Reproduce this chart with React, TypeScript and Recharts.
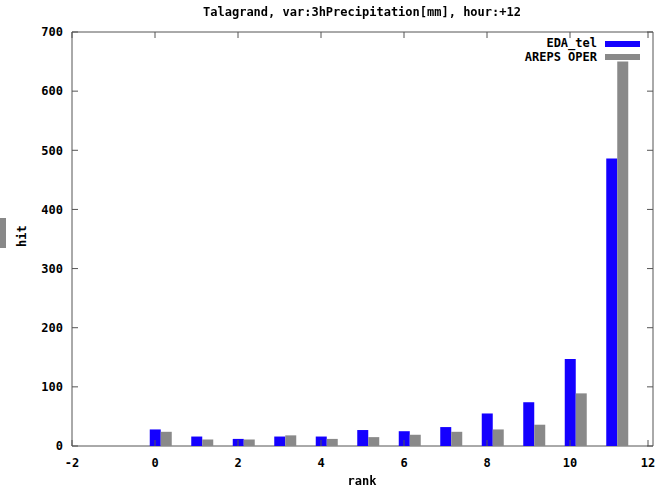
import { BarChart, Bar, XAxis, YAxis, Rectangle, ReferenceArea } from 'recharts';

const ranks = [0, 1, 2, 3, 4, 5, 6, 7, 8, 9, 10, 11];
const edaTel = [28, 16, 12, 16, 16, 27, 25, 32, 55, 74, 147, 486];
const arepsOper = [24, 11, 11, 18, 12, 15, 19, 24, 28, 36, 89, 650];
const xTicks = [-2, 0, 2, 4, 6, 8, 10, 12];
const yTicks = [0, 100, 200, 300, 400, 500, 600, 700];

const data = ranks.map((r, i) => ({ rank: r, eda: edaTel[i], areps: arepsOper[i] }));

const font = '"DejaVu Sans Mono", monospace';
const frame = '#555';

const W = 656;
const H = 489;
const margin = { top: 32, right: 3, bottom: 13, left: 12 };
const xAxisH = 30;
const yAxisW = 60;
const plotLeft = margin.left + yAxisW;
const plotRight = W - margin.right;
const plotTop = margin.top;
const plotBottom = H - margin.bottom - xAxisH;

const labelStyle = { fontFamily: font, fontSize: 12, fontWeight: 'bold' as const, fill: '#000' };

// gnuplot style: ticks point inwards and are mirrored on the opposite side
const XTick = ({ x, y, payload }: any) => (
  <g>
    <line x1={x} x2={x} y1={plotBottom} y2={plotBottom - 6} stroke={frame} />
    <line x1={x} x2={x} y1={plotTop} y2={plotTop + 6} stroke={frame} />
    <text x={x} y={y} dy="0.71em" textAnchor="middle" {...labelStyle}>{payload.value}</text>
  </g>
);

const YTick = ({ x, y, payload }: any) => (
  <g>
    <line x1={plotLeft} x2={plotLeft + 6} y1={y} y2={y} stroke={frame} />
    <line x1={plotRight} x2={plotRight - 6} y1={y} y2={y} stroke={frame} />
    <text x={x} y={y} dy="0.355em" textAnchor="end" {...labelStyle}>{payload.value}</text>
  </g>
);

// first box centred on the rank, the second one right of it
const shifted = (props: any) => <Rectangle {...props} x={props.x + 5.5} />;

export default function App() {
  return (
    <div style={{ position: 'fixed', left: 0, top: 0, width: W, height: H, background: '#fff', fontFamily: font, fontWeight: 'bold', fontSize: 12, color: '#000' }}>
      <BarChart width={W} height={H} data={data} barGap={0} margin={margin}>
        <XAxis
          dataKey="rank"
          type="number"
          domain={[-2, 12]}
          ticks={xTicks}
          allowDataOverflow
          height={xAxisH}
          axisLine={false}
          tickLine={false}
          tickSize={0}
          tickMargin={12}
          tick={<XTick />}
        />
        <YAxis
          domain={[0, 700]}
          ticks={yTicks}
          width={yAxisW}
          axisLine={false}
          tickLine={false}
          tickSize={0}
          tickMargin={9}
          tick={<YTick />}
        />
        <Bar dataKey="eda" fill="#1400ff" barSize={11} shape={shifted} isAnimationActive={false} />
        <Bar dataKey="areps" fill="#898989" barSize={11} shape={shifted} isAnimationActive={false} />
        <ReferenceArea x1={-2} x2={12} y1={0} y2={700} fill="none" stroke={frame} strokeWidth={1} ifOverflow="visible" />
      </BarChart>

      <div style={{ position: 'absolute', left: 0, width: 724, top: 5, textAlign: 'center', lineHeight: '14px' }}>
        Talagrand, var:3hPrecipitation[mm], hour:+12
      </div>
      <div style={{ position: 'absolute', left: 0, width: 724, top: 474, textAlign: 'center', lineHeight: '14px' }}>
        rank
      </div>
      <div style={{ position: 'absolute', left: 15, top: 229, width: 14, height: 14, transform: 'rotate(-90deg)', lineHeight: '14px', textAlign: 'center' }}>
        <span style={{ display: 'inline-block', whiteSpace: 'nowrap', marginLeft: -4 }}>hit</span>
      </div>
      <div style={{ position: 'absolute', left: 0, top: 218, width: 6, height: 30, background: '#888' }} />

      <div style={{ position: 'absolute', right: 59, top: 36, textAlign: 'right', lineHeight: '14px' }}>
        <div>EDA_tel</div>
        <div>AREPS OPER</div>
      </div>
      <div style={{ position: 'absolute', left: 605, top: 41, width: 35, height: 6, background: '#1400ff' }} />
      <div style={{ position: 'absolute', left: 605, top: 54, width: 35, height: 6, background: '#898989' }} />
    </div>
  );
}
